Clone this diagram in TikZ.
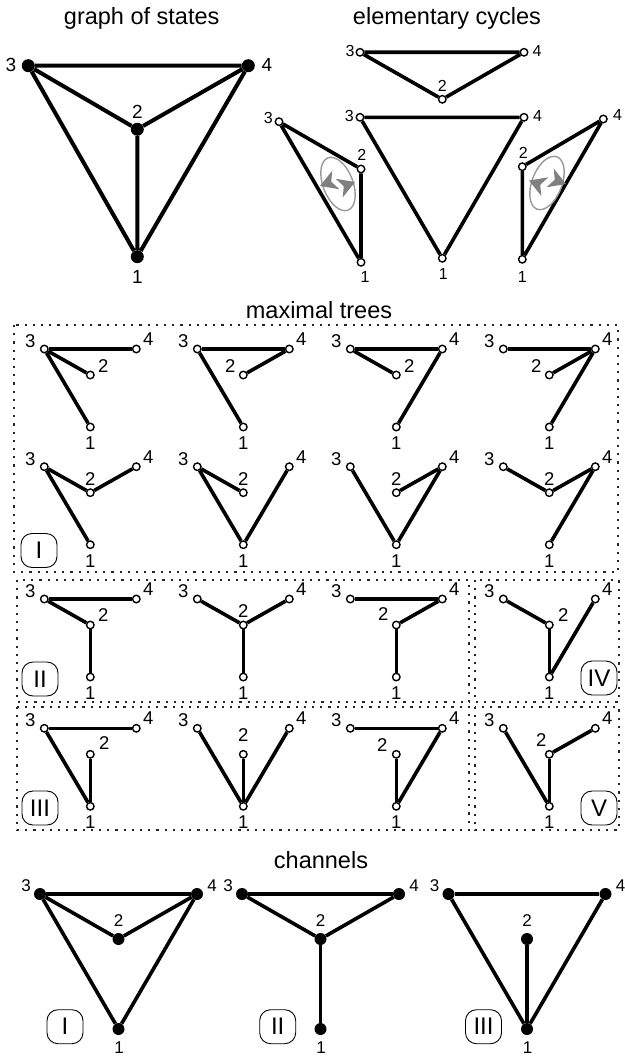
\documentclass[tikz,border=0pt]{standalone}
\usepackage{fontspec}
\setmainfont{Liberation Sans}
\pgfdeclarelayer{bg}
\pgfsetlayers{bg,main}
\tikzset{
  edge/.style={line width=3.6pt},
  onode/.style={circle, draw, fill=white, line width=1.4pt, inner sep=0pt, minimum size=7.5pt},
  snode/.style={circle, fill=black, inner sep=0pt, minimum size=13pt},
  cnode/.style={circle, fill=black, inner sep=0pt, minimum size=12pt},
  tlab/.style={inner sep=0pt, font=\fontsize{18.5}{18.5}\selectfont},
  slab/.style={inner sep=0pt, font=\fontsize{19}{19}\selectfont},
  clab/.style={inner sep=0pt, font=\fontsize{16}{16}\selectfont},
  chlab/.style={inner sep=0pt, font=\fontsize{17}{17}\selectfont},
  title/.style={inner sep=0pt, anchor=base, font=\fontsize{23.5}{23.5}\selectfont},
  rbox/.style={draw, rounded corners=11pt, line width=0.9pt, minimum width=36pt, minimum height=34pt, inner sep=0pt, font=\fontsize{24}{24}\selectfont},
  dotbox/.style={draw=black!85, line width=2.2pt, dash pattern=on 2.2pt off 6pt},
  cyc/.style={draw=black!40, line width=1.4pt},
  ahead/.style={fill=black!50},
}
% tree: #1 name, #2 x, #3 y, #4 edges, #5 position of label 2
\newcommand\mtree[5]{%
  \begin{scope}[shift={(#2,#3)}]
    \node[onode] (#1-3) at (0,0) {};
    \node[onode] (#1-4) at (92,0) {};
    \node[onode] (#1-2) at (46,26) {};
    \node[onode] (#1-1) at (46,78) {};
    \node[tlab] (#1-l3) at (-14,-8) {3};
    \node[tlab] (#1-l4) at (104,-10) {4};
    \node[tlab] (#1-l2) at (#5) {2};
    \node[tlab] (#1-l1) at (46,94) {1};
    \begin{pgfonlayer}{bg}
      \foreach \a/\b in {#4} {\draw[edge] (#1-\a) -- (#1-\b);}
    \end{pgfonlayer}
  \end{scope}}
% channel: #1 name, #2 x, #3 edges
\newcommand\chan[3]{%
  \begin{scope}[shift={(#2,894)}]
    \node[cnode] (#1-3) at (0,0) {};
    \node[cnode] (#1-4) at (157,0) {};
    \node[cnode] (#1-2) at (78.5,45) {};
    \node[cnode] (#1-1) at (78.5,135) {};
    \node[chlab] (#1-l3) at (-14,-8) {3};
    \node[chlab] (#1-l4) at (172,-8) {4};
    \node[chlab] (#1-l2) at (78.5,26.5) {2};
    \node[chlab] (#1-l1) at (79,154) {1};
    \begin{pgfonlayer}{bg}
      \foreach \a/\b in {#3} {\draw[edge] (#1-\a) -- (#1-\b);}
    \end{pgfonlayer}
  \end{scope}}
\begin{document}
\begin{tikzpicture}[x=1pt,y=-1pt]
\useasboundingbox (0,0) rectangle (624,1057);

% titles
\node[title] (ttl1) at (141.7,25) {graph of states};
\node[title] (ttl2) at (447,25) {elementary cycles};
\node[title] (ttl3) at (319,318) {maximal trees};
\node[title] (ttl4) at (321,868) {channels};

% graph of states
\node[snode] (s3) at (28.3,65.7) {};
\node[snode] (s4) at (248.3,65.7) {};
\node[snode] (s2) at (137.3,129.3) {};
\node[snode] (s1) at (137.3,256.7) {};
\node[slab] (sl3) at (11,65) {3};
\node[slab] (sl4) at (267,65) {4};
\node[slab] (sl2) at (137.3,112) {2};
\node[slab] (sl1) at (137.3,277) {1};
\begin{pgfonlayer}{bg}
  \draw[edge, line width=4pt] (s3) -- (s4) (s3) -- (s2) (s2) -- (s4) (s3) -- (s1) (s2) -- (s1) (s4) -- (s1);
\end{pgfonlayer}

% elementary cycles
\node[onode] (ct3) at (360,52.3) {};
\node[onode] (ct4) at (524,52.3) {};
\node[onode] (ct2) at (442.3,99.3) {};
\node[clab] (ctl3) at (350,51) {3};
\node[clab] (ctl4) at (537,51) {4};
\node[clab] (ctl2) at (442.3,85.5) {2};

\node[onode] (cm3) at (360,117.3) {};
\node[onode] (cm4) at (524,117.3) {};
\node[onode] (cm1) at (442.3,258.3) {};
\node[clab] (cml3) at (349.3,116) {3};
\node[clab] (cml4) at (537.5,116) {4};
\node[clab] (cml1) at (443.3,274) {1};

\node[onode] (cl3) at (279,121.7) {};
\node[onode] (cl2) at (361,169) {};
\node[onode] (cl1) at (361,262.3) {};
\node[clab] (cll3) at (268.3,118) {3};
\node[clab] (cll2) at (361.7,154.5) {2};
\node[clab] (cll1) at (365,277) {1};

\node[onode] (cr4) at (603.3,119) {};
\node[onode] (cr2) at (522.3,166.7) {};
\node[onode] (cr1) at (522.3,259.3) {};
\node[clab] (crl4) at (617.5,115) {4};
\node[clab] (crl2) at (523.3,153) {2};
\node[clab] (crl1) at (522.3,277) {1};

\begin{pgfonlayer}{bg}
  \draw[edge] (ct3) -- (ct4) (ct3) -- (ct2) (ct2) -- (ct4);
  \draw[edge] (cm3) -- (cm4) (cm3) -- (cm1) (cm4) -- (cm1);
  \draw[edge] (cl3) -- (cl2) (cl2) -- (cl1) (cl3) -- (cl1);
  \draw[edge] (cr4) -- (cr2) (cr2) -- (cr1) (cr4) -- (cr1);
\end{pgfonlayer}

% cycle arrows (left)
\draw[cyc, rotate around={21:(338,184)}] (338,184) ellipse [x radius=15pt, y radius=28pt];
\fill[ahead, shift={(320,186)}, rotate=21] (0pt,0pt) -- (17pt,10pt) -- (12pt,0pt) -- (17pt,-10pt) -- cycle;
\fill[ahead, shift={(355,182)}, rotate=21] (0pt,0pt) -- (-17pt,10pt) -- (-12pt,0pt) -- (-17pt,-10pt) -- cycle;
% cycle arrows (right)
\draw[cyc, rotate around={-21:(547,183)}] (547,183) ellipse [x radius=15pt, y radius=28pt];
\fill[ahead, shift={(529,180.5)}, rotate=-21] (0pt,0pt) -- (17pt,10pt) -- (12pt,0pt) -- (17pt,-10pt) -- cycle;
\fill[ahead, shift={(566,184)}, rotate=-21] (0pt,0pt) -- (-17pt,10pt) -- (-12pt,0pt) -- (-17pt,-10pt) -- cycle;

% dotted boxes
\draw[dotbox] (14,325) rectangle (618,572);
\draw[dotbox] (17,580) rectangle (469,702);
\draw[dotbox] (475,580) rectangle (619,702);
\draw[dotbox] (17,707) rectangle (469,830);
\draw[dotbox] (475,707) rectangle (619,830);

% maximal trees, box I
\mtree{a1}{44.3}{349}{3/4,3/2,3/1}{59,17}
\mtree{a2}{197.3}{349}{3/4,4/2,3/1}{33,17}
\mtree{a3}{350.3}{349}{3/4,3/2,4/1}{59,17}
\mtree{a4}{503.3}{349}{3/4,4/2,4/1}{33,17}
\mtree{b1}{44.3}{466.7}{3/2,2/4,3/1}{46,12}
\mtree{b2}{197.3}{466.7}{3/2,3/1,1/4}{46,12}
\mtree{b3}{350.3}{466.7}{3/1,1/4,2/4}{46,12}
\mtree{b4}{503.3}{466.7}{3/2,2/4,4/1}{46,12}
% box II and IV
\mtree{c1}{44.3}{599}{3/4,3/2,2/1}{59,16}
\mtree{c2}{197.3}{599}{3/2,2/4,2/1}{46,12}
\mtree{c3}{350.3}{599}{3/4,4/2,2/1}{33,15}
\mtree{d1}{503.3}{599}{3/2,2/1,1/4}{60,16}
% box III and V
\mtree{e1}{44.3}{728.3}{3/4,3/1,2/1}{60,15}
\mtree{e2}{197.3}{728.3}{3/1,2/1,4/1}{46,7}
\mtree{e3}{350.3}{728.3}{3/4,4/1,2/1}{32,17}
\mtree{f1}{503.3}{728.3}{3/1,2/1,2/4}{38,12}

% roman labels of the trees
\node[rbox] (rI) at (39,550.5) {I};
\node[rbox] (rII) at (40,679) {II};
\node[rbox] (rIII) at (40,808) {III};
\node[rbox] (rIV) at (599,678) {IV};
\node[rbox] (rV) at (599,808) {V};

% channels
\chan{h1}{40}{3/4,3/2,2/4,3/1,4/1}
\chan{h2}{242}{3/4,3/2,2/4,2/1}
\chan{h3}{448.5}{3/4,3/1,4/1,2/1}
\node[rbox] (hrI) at (65,1026.7) {I};
\node[rbox] (hrII) at (277.7,1026.7) {II};
\node[rbox] (hrIII) at (483.5,1026.7) {III};
\end{tikzpicture}
\end{document}
